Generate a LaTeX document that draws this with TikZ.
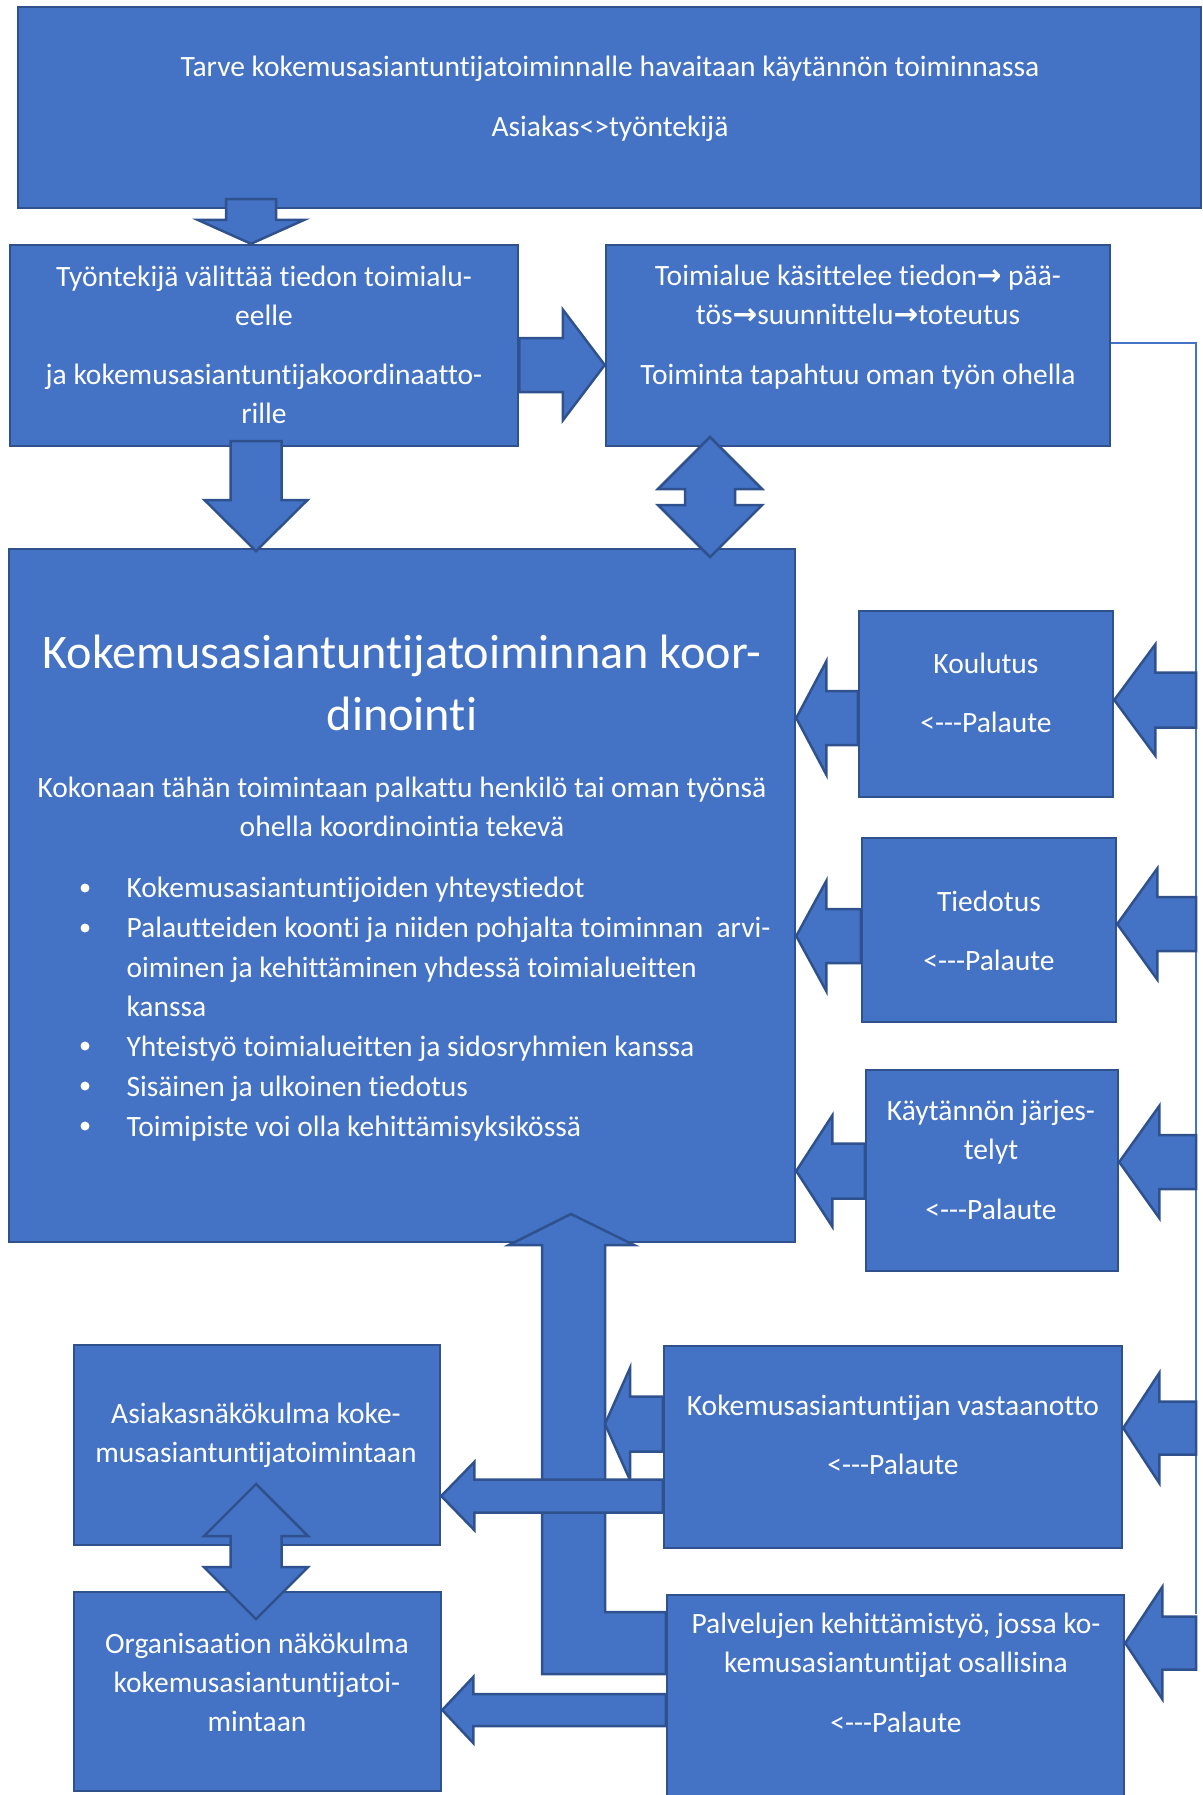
\documentclass[tikz,border=0pt]{standalone}
\usepackage{fontspec}
\setmainfont{Carlito}[Ligatures={TeXOff,CommonOff}]
\newfontfamily\arrowfont{DejaVu Sans}
\usetikzlibrary{calc,fit}
\definecolor{boxblue}{RGB}{68,114,196}
\definecolor{boxedge}{RGB}{47,82,143}

\newcommand{\gap}{\\[8.2pt]}
\newcommand{\ra}{{\arrowfont\bfseries →}}

% block arrow: tail, tip, head length, head half width, shaft half width (px)
\newcommand{\blockarrow}[5]{%
  \pgfmathsetlengthmacro\ahl{#3*0.4pt}%
  \pgfmathsetlengthmacro\ahh{#4*0.4pt}%
  \pgfmathsetlengthmacro\ash{#5*0.4pt}%
  \path (#1) coordinate (atail) (#2) coordinate (atip);
  \path ($(atip)!\ahl!(atail)$) coordinate (ahead);
  \draw[blockarrow] (atip) -- ($(ahead)!\ahh!90:(atip)$) -- ($(ahead)!\ash!90:(atip)$)
    -- ($(atail)!\ash!90:(atip)$) -- ($(atail)!\ash!-90:(atip)$)
    -- ($(ahead)!\ash!-90:(atip)$) -- ($(ahead)!\ahh!-90:(atip)$) -- cycle;}

% double block arrow: end one, end two, head length, head half width, shaft half width (px)
\newcommand{\dblarrow}[5]{%
  \pgfmathsetlengthmacro\ahl{#3*0.4pt}%
  \pgfmathsetlengthmacro\ahh{#4*0.4pt}%
  \pgfmathsetlengthmacro\ash{#5*0.4pt}%
  \path (#1) coordinate (aone) (#2) coordinate (atwo);
  \path ($(aone)!\ahl!(atwo)$) coordinate (hone) ($(atwo)!\ahl!(aone)$) coordinate (htwo);
  \draw[blockarrow] (aone) -- ($(hone)!\ahh!90:(atwo)$) -- ($(hone)!\ash!90:(atwo)$)
    -- ($(htwo)!\ash!90:(atwo)$) -- ($(htwo)!\ahh!90:(atwo)$) -- (atwo)
    -- ($(htwo)!\ahh!-90:(atwo)$) -- ($(htwo)!\ash!-90:(atwo)$)
    -- ($(hone)!\ash!-90:(atwo)$) -- ($(hone)!\ahh!-90:(atwo)$) -- cycle;}

\tikzset{
  box/.style={draw=boxedge,fill=boxblue,line width=1pt,inner sep=0pt},
  blockarrow/.style={draw=boxedge,fill=boxblue,line width=1pt,line join=miter},
  boxtext/.style={text=white,align=center,inner sep=0pt,font=\fontsize{11.8}{15.6}\selectfont},
  fbline/.style={draw=boxblue,line width=0.5pt}
}

\begin{document}
\begin{tikzpicture}[x=0.4pt,y=-0.4pt]
\useasboundingbox (0,0) rectangle (1203,1795);

%% ── boxes ───────────────────────────────────────────────────────────────────
\node[box,fit={(18,7) (1201,208)}] (top) {};
\node[box,fit={(10,245) (518,446)}] (tyon) {};
\node[box,fit={(606,245) (1110,446)}] (toim) {};
\node[box,fit={(9,549) (795,1242)}] (main) {};
\node[box,fit={(859,611) (1113,797)}] (koul) {};
\node[box,fit={(862,838) (1116,1022)}] (tied) {};
\node[box,fit={(866,1070) (1118,1271)}] (kayt) {};
\node[box,fit={(664,1346) (1122,1548)}] (vast) {};
\node[box,fit={(667,1595) (1124,1810)}] (palv) {};
\node[box,fit={(74,1345) (440,1545)}] (asia) {};
\node[box,fit={(74,1592) (441,1791)}] (org) {};

%% ── texts ───────────────────────────────────────────────────────────────────
\node[boxtext] (toptxt) at (610,99) {Tarve kokemusasiantuntijatoiminnalle havaitaan käytännön toiminnassa\gap
  Asiakas<>työntekijä};
\node[boxtext] (tyontxt) at (264,345) {Työntekijä välittää tiedon toimialu-\\eelle\gap
  ja kokemusasiantuntijakoordinaatto-\\rille};
\node[boxtext] (toimtxt) at (858,327) {Toimialue käsittelee tiedon\ra{} pää-\\tös\ra suunnittelu\ra toteutus\gap
  Toiminta tapahtuu oman työn ohella};
\node[boxtext,font=\fontsize{19.3}{25}\selectfont] (title) at (402,683)
  {Kokemusasiantuntijatoiminnan koor-\\dinointi};
\node[boxtext] (subtxt) at (402,807) {Kokonaan tähän toimintaan palkattu henkilö tai oman työnsä\\ohella koordinointia tekevä};
\node[boxtext,align=left,anchor=west,font=\fontsize{11.8}{15.9}\selectfont] (bullets) at (126,1009)
  {Kokemusasiantuntijoiden yhteystiedot\\
   Palautteiden koonti ja niiden pohjalta toiminnan \ arvi-\\
   oiminen ja kehittäminen yhdessä toimialueitten\\
   kanssa\\
   Yhteistyö toimialueitten ja sidosryhmien kanssa\\
   Sisäinen ja ulkoinen tiedotus\\
   Toimipiste voi olla kehittämisyksikössä};
\foreach \y in {888,928,1046,1086,1126}
  \fill[white] (85,\y) circle (4.5);
\node[boxtext] (koultxt) at (986,693) {Koulutus\gap <---Palaute};
\node[boxtext] (tiedtxt) at (989,931) {Tiedotus\gap <---Palaute};
\node[boxtext] (kayttxt) at (991,1160) {Käytännön järjes-\\telyt\gap <---Palaute};
\node[boxtext] (vasttxt) at (893,1435) {Kokemusasiantuntijan vastaanotto\gap <---Palaute};
\node[boxtext] (palvtxt) at (896,1673) {Palvelujen kehittämistyö, jossa ko-\\kemusasiantuntijat osallisina\gap <---Palaute};
\node[boxtext] (asiatxt) at (256,1435) {Asiakasnäkökulma koke-\\musasiantuntijatoimintaan};
\node[boxtext] (orgtxt) at (257,1682) {Organisaation näkökulma\\kokemusasiantuntijatoi-\\mintaan};

%% ── feedback line ───────────────────────────────────────────────────────────
\coordinate (fbtop) at (1196,343);
\coordinate (fbbot) at (1196,1614);
\draw[fbline] (toim.east |- fbtop) -- (fbtop) -- (fbbot);

%% ── bent arrow up into coordination ─────────────────────────────────────────
\draw[blockarrow] (palv.west |- 0,1612) -- (605,1612) -- (605,1245) -- (634,1245)
  -- (571,1214) -- (509,1245) -- (542,1245) -- (542,1674) -- (palv.west |- 0,1674) -- cycle;

%% ── block arrows ────────────────────────────────────────────────────────────
\blockarrow{251,199}{251,0 |- tyon.north}{24}{53.5}{25}
\blockarrow{tyon.east |- 0,365}{toim.west |- 0,365}{42}{55.5}{27}
\dblarrow{710,437}{710,557}{52}{52}{25}
\blockarrow{256,441}{256,551}{51}{51.5}{25.5}
% right column into coordination
\blockarrow{koul.west |- 0,718}{main.east |- 0,718}{30}{56.5}{27}
\blockarrow{tied.west |- 0,936}{main.east |- 0,936}{30}{55}{27}
\blockarrow{kayt.west |- 0,1171}{main.east |- 0,1171}{36}{55.5}{27.5}
% feedback into boxes
\blockarrow{fbtop |- 0,700}{koul.east |- 0,700}{41}{55.5}{27.5}
\blockarrow{fbtop |- 0,924}{tied.east |- 0,924}{40}{55.5}{27}
\blockarrow{fbtop |- 0,1162}{kayt.east |- 0,1162}{40}{56}{27}
\blockarrow{fbtop |- 0,1428}{vast.east |- 0,1428}{36}{55}{26.5}
\blockarrow{fbtop |- 0,1643}{palv.east |- 0,1643}{37}{56}{26.5}
% bottom left
\blockarrow{vast.west |- 0,1424}{605,1424}{25}{56}{27.5}
\blockarrow{vast.west |- 0,1496}{asia.east |- 0,1496}{33}{34}{16.5}
\blockarrow{palv.west |- 0,1710}{org.east |- 0,1710}{31}{33}{16}
\dblarrow{256,1484}{256,1619}{52}{52}{25.5}

\end{tikzpicture}
\end{document}
